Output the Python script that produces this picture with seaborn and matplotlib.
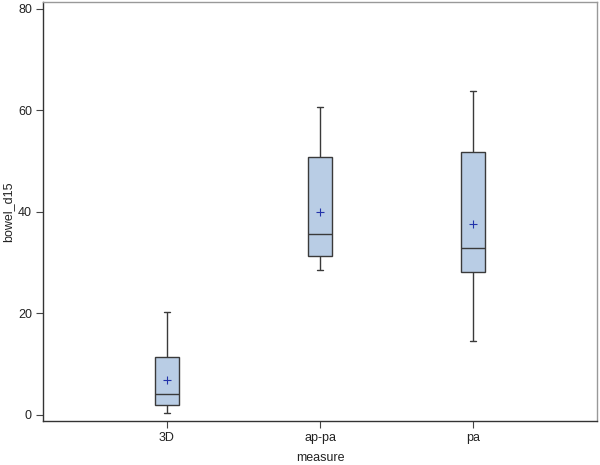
import matplotlib
matplotlib.use("Agg")
import matplotlib.pyplot as plt
import seaborn as sns
import pandas as pd
import numpy as np

categories = ["3D", "ap-pa", "pa"]
mins = [0.4, 28.6, 14.5]
q1s = [2.0, 31.2, 28.2]
medians = [4.1, 35.6, 32.9]
q3s = [11.4, 50.8, 51.8]
maxs = [20.2, 60.6, 63.7]
means = [6.9, 39.9, 37.6]

rows = []
for c, a, b, m, d, e in zip(categories, mins, q1s, medians, q3s, maxs):
    for v in (a, b, m, d, e):
        rows.append({"measure": c, "bowel_d15": v})
df = pd.DataFrame(rows)
mdf = pd.DataFrame({"measure": categories, "bowel_d15": means})

sns.set_style("white")
plt.rcParams["font.family"] = ["Liberation Sans", "DejaVu Sans"]

fig = plt.figure(figsize=(6, 4.65), dpi=100)
ax = fig.add_axes([0.0717, 0.0946, 0.9233, 0.901])

edge = "#3a3a3a"
sns.boxplot(data=df, x="measure", y="bowel_d15", order=categories, ax=ax,
            whis=(0, 100), width=0.157, color="#B9CDE5", linecolor=edge,
            linewidth=1.0, fill=True, saturation=1,
            boxprops=dict(facecolor="#B9CDE5", edgecolor=edge),
            medianprops=dict(color=edge, linewidth=1.0),
            whiskerprops=dict(color=edge), capprops=dict(color=edge))

# shrink whisker caps to half the box width
ends = set(np.round(mins, 3)) | set(np.round(maxs, 3))
for ln in ax.lines:
    xd = np.asarray(ln.get_xdata(), dtype=float)
    yd = np.asarray(ln.get_ydata(), dtype=float)
    if len(xd) == 2 and yd[0] == yd[1] and round(float(yd[0]), 3) in ends:
        c = xd.mean()
        half = (xd[1] - xd[0]) / 4
        ln.set_xdata([c - half, c + half])

sns.stripplot(data=mdf, x="measure", y="bowel_d15", order=categories, ax=ax,
              jitter=False, marker="+", color="#2233aa", size=6, linewidth=0.8)

ax.set_xlim(-0.81, 2.81)
ax.set_ylim(-1.2, 81.3)
ax.set_yticks([0, 20, 40, 60, 80])
ax.tick_params(axis="both", bottom=True, left=True, direction="out", length=5,
               width=0.8, color="#444444", labelsize=9, labelcolor="#222222", pad=3)
ax.set_xlabel("measure", fontsize=9, color="#222222", labelpad=6)
ax.set_ylabel("bowel_d15", fontsize=9, color="#222222", labelpad=3)
for s in ["left", "bottom"]:
    ax.spines[s].set_color("#333333")
    ax.spines[s].set_linewidth(1.0)
for s in ["top", "right"]:
    ax.spines[s].set_color("#999999")
    ax.spines[s].set_linewidth(1.0)
    ax.spines[s].set_visible(True)

fig.savefig("out.png", dpi=100)
